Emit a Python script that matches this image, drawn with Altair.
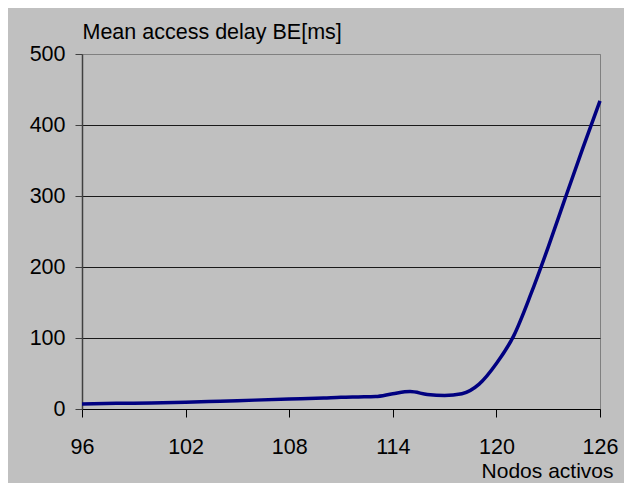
import altair as alt
import pandas as pd

nodos = [96, 98, 100, 102, 104, 106, 108, 110, 111, 112, 113, 114, 115, 116, 117, 118, 119, 120, 121, 122, 123, 124, 125, 126]
delay = [7, 8, 8.5, 9.5, 11, 12.5, 14, 15.5, 16.5, 17, 17.5, 21.5, 24.5, 20.5, 19, 21.5, 35, 64, 103, 162, 228, 298, 367, 434]

x_ticks = [96, 102, 108, 114, 120, 126]
y_ticks = [0, 100, 200, 300, 400, 500]

df = pd.DataFrame({"nodos": nodos, "delay": delay})

FONT = "Liberation Sans"

chart = alt.Chart(df).mark_line(
    color="#000080", strokeWidth=3.5, interpolate="monotone"
).encode(
    x=alt.X(
        "nodos:Q",
        scale=alt.Scale(domain=[96, 126], nice=False, zero=False),
        axis=alt.Axis(
            values=x_ticks,
            grid=False,
            title="Nodos activos",
            titleX=531,
            titleY=68,
            titleAlign="right",
            titleBaseline="alphabetic",
            titleFontSize=21,
            titleFontWeight="normal",
            titleColor="#000000",
            titleFont=FONT,
            labelFont=FONT,
            labelFontSize=21.5,
            labelColor="#000000",
            labelPadding=19,
            tickSize=8,
            tickColor="#000000",
            domainColor="#000000",
            labelFlush=False,
            labelOverlap=False,
        ),
    ),
    y=alt.Y(
        "delay:Q",
        scale=alt.Scale(domain=[0, 500], nice=False),
        axis=alt.Axis(
            values=y_ticks,
            grid=True,
            gridColor={"condition": {"test": "datum.value === 500", "value": "#808080"}, "value": "#1a1a1a"},
            title="Mean access delay BE[ms]",
            titleAngle=0,
            titleX=0,
            titleY=-16,
            titleAlign="left",
            titleBaseline="alphabetic",
            titleFontSize=21.5,
            titleFontWeight="normal",
            titleColor="#000000",
            titleFont=FONT,
            labelFont=FONT,
            labelFontSize=21.5,
            labelColor="#000000",
            labelPadding=10,
            tickSize=7,
            tickColor="#404040",
            domainColor="#404040",
            domainWidth=1.5,
            labelFlush=False,
            labelOverlap=False,
        ),
    ),
).properties(
    width=518,
    height=355,
    autosize="none",
    padding={"left": 74, "top": 46, "right": 24, "bottom": 74},
).configure(
    background="#C0C0C0",
).configure_view(
    stroke="#808080",
    strokeWidth=1,
)

chart.save("out.html", embed_options={"renderer": "svg", "actions": False})
